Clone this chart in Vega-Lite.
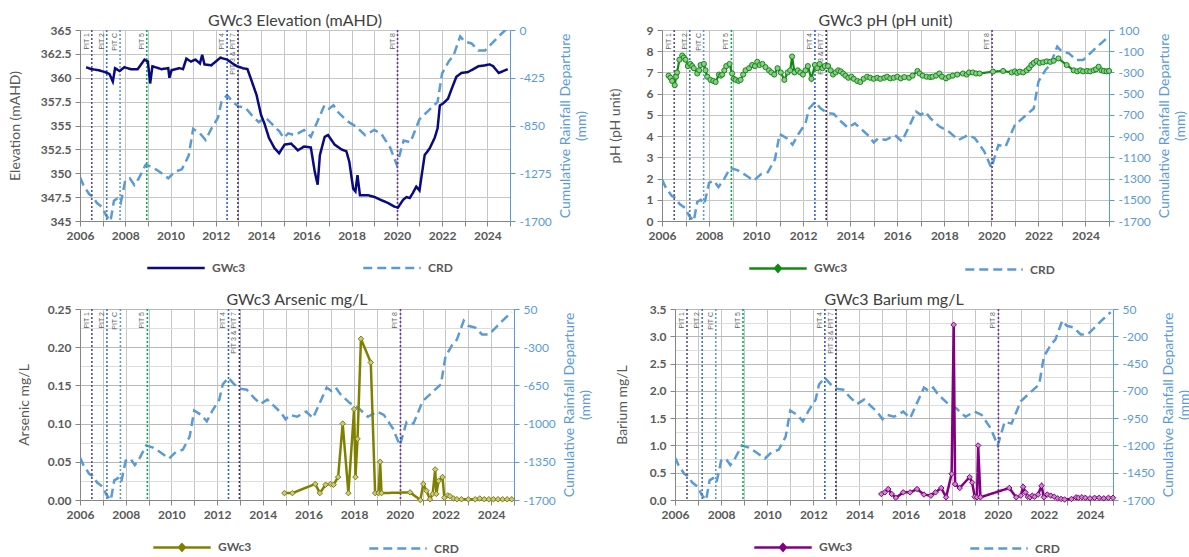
{
"$schema": "https://vega.github.io/schema/vega-lite/v6.json",
"padding": {"left": 8, "top": 13, "right": 0, "bottom": 0},
"config": {
 "font": "Lato",
 "view": {"stroke": null},
 "axis": {"labelFont": "Lato", "labelFontSize": 12, "labelFontWeight": "bold", "labelColor": "#595959", "titleFont": "Lato", "titleFontSize": 14, "titleFontWeight": "normal", "titleColor": "#595959", "gridColor": "#C6C6C6", "domainColor": "#868686", "tickColor": "#868686", "tickSize": 5, "labelPadding": 4, "labelOverlap": false},
 "legend": {"orient": "none", "direction": "horizontal", "title": null, "symbolSize": 3300, "symbolStrokeWidth": 2.5, "labelFont": "Lato", "labelFontSize": 12, "labelFontWeight": "bold", "labelColor": "#595959", "columnPadding": 112, "labelOffset": 6},
 "title": {"font": "Lato", "fontSize": 16, "fontWeight": "normal", "color": "#404040", "anchor": "middle", "frame": "group", "offset": -5}
},
"datasets": {
 "pits": [
  {"year": 2006.52, "pit": "PIT 1"},
  {"year": 2007.18, "pit": "PIT 2"},
  {"year": 2007.77, "pit": "PIT C"},
  {"year": 2008.95, "pit": "PIT 5"},
  {"year": 2012.5, "pit": "PIT 4"},
  {"year": 2012.98, "pit": "PIT 3 & PIT 7"},
  {"year": 2020.03, "pit": "PIT 8"}
 ],
 "crd": [
  {"year": 2006.0, "crd": -1310}, {"year": 2006.15, "crd": -1380}, {"year": 2006.4, "crd": -1460}, {"year": 2006.55, "crd": -1480}, {"year": 2006.75, "crd": -1540}, {"year": 2007.0, "crd": -1580}, {"year": 2007.15, "crd": -1650}, {"year": 2007.35, "crd": -1700}, {"year": 2007.5, "crd": -1520}, {"year": 2007.65, "crd": -1500}, {"year": 2007.8, "crd": -1540}, {"year": 2008.0, "crd": -1340}, {"year": 2008.2, "crd": -1320}, {"year": 2008.4, "crd": -1380}, {"year": 2008.6, "crd": -1320}, {"year": 2008.9, "crd": -1200}, {"year": 2009.2, "crd": -1220}, {"year": 2009.5, "crd": -1260}, {"year": 2009.9, "crd": -1320}, {"year": 2010.2, "crd": -1260}, {"year": 2010.5, "crd": -1240}, {"year": 2010.8, "crd": -1120}, {"year": 2011.0, "crd": -880}, {"year": 2011.3, "crd": -920}, {"year": 2011.55, "crd": -980}, {"year": 2011.8, "crd": -880}, {"year": 2012.1, "crd": -780}, {"year": 2012.25, "crd": -640}, {"year": 2012.5, "crd": -580}, {"year": 2012.75, "crd": -640}, {"year": 2013.0, "crd": -680}, {"year": 2013.3, "crd": -690}, {"year": 2013.6, "crd": -760}, {"year": 2013.9, "crd": -820}, {"year": 2014.2, "crd": -780}, {"year": 2014.5, "crd": -840}, {"year": 2014.8, "crd": -900}, {"year": 2015.0, "crd": -960}, {"year": 2015.2, "crd": -920}, {"year": 2015.5, "crd": -937}, {"year": 2015.9, "crd": -890}, {"year": 2016.2, "crd": -950}, {"year": 2016.5, "crd": -810}, {"year": 2016.8, "crd": -670}, {"year": 2017.0, "crd": -700}, {"year": 2017.2, "crd": -670}, {"year": 2017.4, "crd": -730}, {"year": 2017.8, "crd": -810}, {"year": 2018.2, "crd": -860}, {"year": 2018.6, "crd": -937}, {"year": 2019.0, "crd": -890}, {"year": 2019.3, "crd": -920}, {"year": 2019.7, "crd": -1045}, {"year": 2020.0, "crd": -1200}, {"year": 2020.3, "crd": -984}, {"year": 2020.6, "crd": -1000}, {"year": 2021.0, "crd": -795}, {"year": 2021.4, "crd": -717}, {"year": 2021.8, "crd": -640}, {"year": 2022.0, "crd": -387}, {"year": 2022.3, "crd": -277}, {"year": 2022.5, "crd": -230}, {"year": 2022.8, "crd": -57}, {"year": 2023.0, "crd": -104}, {"year": 2023.3, "crd": -120}, {"year": 2023.6, "crd": -183}, {"year": 2023.9, "crd": -183}, {"year": 2024.2, "crd": -120}, {"year": 2024.5, "crd": -57}, {"year": 2024.9, "crd": 21}
 ],
 "elev": [
  {"year": 2006.27, "v": 361.1}, {"year": 2006.5, "v": 360.9}, {"year": 2006.8, "v": 360.8}, {"year": 2007.1, "v": 360.6}, {"year": 2007.3, "v": 360.4}, {"year": 2007.45, "v": 359.6}, {"year": 2007.55, "v": 361.0}, {"year": 2007.75, "v": 360.7}, {"year": 2007.96, "v": 361.1}, {"year": 2008.25, "v": 360.9}, {"year": 2008.55, "v": 360.9}, {"year": 2008.85, "v": 361.9}, {"year": 2009.0, "v": 361.7}, {"year": 2009.1, "v": 359.4}, {"year": 2009.2, "v": 361.2}, {"year": 2009.6, "v": 360.9}, {"year": 2009.9, "v": 361.0}, {"year": 2009.95, "v": 360.0}, {"year": 2010.05, "v": 360.8}, {"year": 2010.4, "v": 361.0}, {"year": 2010.55, "v": 360.9}, {"year": 2010.7, "v": 362.0}, {"year": 2010.9, "v": 361.7}, {"year": 2011.1, "v": 361.9}, {"year": 2011.3, "v": 361.5}, {"year": 2011.4, "v": 362.4}, {"year": 2011.5, "v": 361.4}, {"year": 2011.8, "v": 361.3}, {"year": 2012.0, "v": 361.7}, {"year": 2012.2, "v": 362.1}, {"year": 2012.5, "v": 361.9}, {"year": 2012.8, "v": 361.4}, {"year": 2012.95, "v": 361.2}, {"year": 2013.2, "v": 361.0}, {"year": 2013.4, "v": 360.9}, {"year": 2013.55, "v": 359.9}, {"year": 2013.8, "v": 358.2}, {"year": 2014.0, "v": 356.1}, {"year": 2014.15, "v": 355.2}, {"year": 2014.35, "v": 353.7}, {"year": 2014.6, "v": 352.6}, {"year": 2014.8, "v": 352.1}, {"year": 2015.04, "v": 353.0}, {"year": 2015.33, "v": 353.1}, {"year": 2015.63, "v": 352.4}, {"year": 2015.9, "v": 352.8}, {"year": 2016.2, "v": 352.7}, {"year": 2016.37, "v": 350.2}, {"year": 2016.5, "v": 348.8}, {"year": 2016.6, "v": 351.9}, {"year": 2016.81, "v": 353.8}, {"year": 2016.96, "v": 354.0}, {"year": 2017.25, "v": 353.0}, {"year": 2017.55, "v": 352.5}, {"year": 2017.77, "v": 352.3}, {"year": 2017.9, "v": 351.2}, {"year": 2018.07, "v": 348.4}, {"year": 2018.17, "v": 348.1}, {"year": 2018.26, "v": 349.8}, {"year": 2018.37, "v": 347.7}, {"year": 2018.73, "v": 347.7}, {"year": 2019.03, "v": 347.5}, {"year": 2019.3, "v": 347.2}, {"year": 2019.6, "v": 346.9}, {"year": 2019.9, "v": 346.5}, {"year": 2020.05, "v": 346.4}, {"year": 2020.27, "v": 347.2}, {"year": 2020.42, "v": 347.5}, {"year": 2020.57, "v": 347.4}, {"year": 2020.7, "v": 347.9}, {"year": 2020.86, "v": 348.6}, {"year": 2021.0, "v": 348.2}, {"year": 2021.08, "v": 349.5}, {"year": 2021.23, "v": 351.9}, {"year": 2021.45, "v": 352.6}, {"year": 2021.67, "v": 353.7}, {"year": 2021.8, "v": 354.7}, {"year": 2021.9, "v": 357.1}, {"year": 2022.04, "v": 357.3}, {"year": 2022.26, "v": 357.8}, {"year": 2022.4, "v": 358.7}, {"year": 2022.63, "v": 360.1}, {"year": 2022.85, "v": 360.5}, {"year": 2023.15, "v": 360.6}, {"year": 2023.6, "v": 361.2}, {"year": 2023.9, "v": 361.3}, {"year": 2024.1, "v": 361.4}, {"year": 2024.26, "v": 361.2}, {"year": 2024.5, "v": 360.5}, {"year": 2024.7, "v": 360.7}, {"year": 2024.9, "v": 360.9}
 ],
 "ph": [
  {"year": 2006.28, "v": 6.85}, {"year": 2006.36, "v": 6.75}, {"year": 2006.43, "v": 6.6}, {"year": 2006.54, "v": 6.4}, {"year": 2006.6, "v": 6.8}, {"year": 2006.64, "v": 7.0}, {"year": 2006.74, "v": 7.6}, {"year": 2006.86, "v": 7.8}, {"year": 2006.93, "v": 7.7}, {"year": 2007.0, "v": 7.6}, {"year": 2007.1, "v": 7.3}, {"year": 2007.2, "v": 7.4}, {"year": 2007.28, "v": 7.3}, {"year": 2007.35, "v": 7.2}, {"year": 2007.5, "v": 6.95}, {"year": 2007.58, "v": 7.1}, {"year": 2007.64, "v": 7.35}, {"year": 2007.78, "v": 7.4}, {"year": 2007.85, "v": 7.1}, {"year": 2007.92, "v": 6.8}, {"year": 2008.06, "v": 6.65}, {"year": 2008.18, "v": 6.6}, {"year": 2008.28, "v": 6.55}, {"year": 2008.42, "v": 6.9}, {"year": 2008.5, "v": 6.85}, {"year": 2008.56, "v": 6.9}, {"year": 2008.65, "v": 7.1}, {"year": 2008.73, "v": 7.3}, {"year": 2008.87, "v": 7.4}, {"year": 2008.98, "v": 6.95}, {"year": 2009.05, "v": 6.7}, {"year": 2009.13, "v": 6.65}, {"year": 2009.25, "v": 6.6}, {"year": 2009.34, "v": 6.65}, {"year": 2009.45, "v": 6.9}, {"year": 2009.55, "v": 7.1}, {"year": 2009.7, "v": 7.2}, {"year": 2009.83, "v": 7.35}, {"year": 2009.95, "v": 7.3}, {"year": 2010.05, "v": 7.5}, {"year": 2010.15, "v": 7.35}, {"year": 2010.27, "v": 7.4}, {"year": 2010.4, "v": 7.25}, {"year": 2010.55, "v": 7.1}, {"year": 2010.65, "v": 7.0}, {"year": 2010.77, "v": 6.9}, {"year": 2010.91, "v": 7.2}, {"year": 2011.05, "v": 7.0}, {"year": 2011.2, "v": 6.65}, {"year": 2011.34, "v": 7.0}, {"year": 2011.45, "v": 7.1}, {"year": 2011.53, "v": 7.75}, {"year": 2011.63, "v": 7.0}, {"year": 2011.77, "v": 7.1}, {"year": 2011.88, "v": 7.0}, {"year": 2011.99, "v": 6.9}, {"year": 2012.1, "v": 7.1}, {"year": 2012.2, "v": 7.3}, {"year": 2012.35, "v": 6.7}, {"year": 2012.5, "v": 7.35}, {"year": 2012.6, "v": 7.2}, {"year": 2012.7, "v": 7.4}, {"year": 2012.82, "v": 7.2}, {"year": 2012.92, "v": 7.3}, {"year": 2013.06, "v": 7.3}, {"year": 2013.17, "v": 7.1}, {"year": 2013.27, "v": 6.9}, {"year": 2013.38, "v": 7.0}, {"year": 2013.49, "v": 7.1}, {"year": 2013.6, "v": 7.05}, {"year": 2013.7, "v": 6.95}, {"year": 2013.8, "v": 6.85}, {"year": 2013.92, "v": 6.75}, {"year": 2014.05, "v": 6.8}, {"year": 2014.15, "v": 6.7}, {"year": 2014.3, "v": 6.6}, {"year": 2014.43, "v": 6.55}, {"year": 2014.57, "v": 6.7}, {"year": 2014.72, "v": 6.8}, {"year": 2014.85, "v": 6.75}, {"year": 2015.0, "v": 6.7}, {"year": 2015.15, "v": 6.75}, {"year": 2015.28, "v": 6.7}, {"year": 2015.45, "v": 6.75}, {"year": 2015.57, "v": 6.8}, {"year": 2015.7, "v": 6.72}, {"year": 2015.85, "v": 6.75}, {"year": 2016.0, "v": 6.8}, {"year": 2016.15, "v": 6.72}, {"year": 2016.3, "v": 6.78}, {"year": 2016.5, "v": 6.75}, {"year": 2016.65, "v": 6.85}, {"year": 2016.86, "v": 7.07}, {"year": 2016.95, "v": 6.95}, {"year": 2017.08, "v": 6.85}, {"year": 2017.25, "v": 6.8}, {"year": 2017.4, "v": 6.78}, {"year": 2017.5, "v": 6.8}, {"year": 2017.65, "v": 6.85}, {"year": 2017.79, "v": 6.95}, {"year": 2017.9, "v": 6.8}, {"year": 2018.07, "v": 6.72}, {"year": 2018.2, "v": 6.8}, {"year": 2018.36, "v": 6.85}, {"year": 2018.55, "v": 6.9}, {"year": 2018.79, "v": 6.95}, {"year": 2018.95, "v": 6.9}, {"year": 2019.05, "v": 7.0}, {"year": 2019.21, "v": 7.0}, {"year": 2019.35, "v": 6.95}, {"year": 2019.5, "v": 6.95}, {"year": 2020.07, "v": 7.04}, {"year": 2020.5, "v": 7.07}, {"year": 2020.86, "v": 7.0}, {"year": 2021.0, "v": 7.05}, {"year": 2021.1, "v": 6.98}, {"year": 2021.21, "v": 7.04}, {"year": 2021.35, "v": 7.0}, {"year": 2021.5, "v": 7.1}, {"year": 2021.6, "v": 7.2}, {"year": 2021.7, "v": 7.35}, {"year": 2021.8, "v": 7.45}, {"year": 2021.92, "v": 7.54}, {"year": 2022.05, "v": 7.45}, {"year": 2022.2, "v": 7.48}, {"year": 2022.35, "v": 7.52}, {"year": 2022.5, "v": 7.5}, {"year": 2022.65, "v": 7.55}, {"year": 2022.85, "v": 7.66}, {"year": 2023.2, "v": 7.35}, {"year": 2023.5, "v": 7.1}, {"year": 2023.65, "v": 7.05}, {"year": 2023.78, "v": 7.1}, {"year": 2023.9, "v": 7.05}, {"year": 2024.07, "v": 7.07}, {"year": 2024.2, "v": 7.05}, {"year": 2024.35, "v": 7.1}, {"year": 2024.45, "v": 7.15}, {"year": 2024.56, "v": 7.27}, {"year": 2024.68, "v": 7.1}, {"year": 2024.78, "v": 7.07}, {"year": 2024.9, "v": 7.05}, {"year": 2025.0, "v": 7.07}
 ],
 "as": [
  {"year": 2014.95, "v": 0.009}, {"year": 2015.3, "v": 0.009}, {"year": 2016.3, "v": 0.021}, {"year": 2016.5, "v": 0.009}, {"year": 2016.75, "v": 0.02}, {"year": 2016.97, "v": 0.021}, {"year": 2017.1, "v": 0.02}, {"year": 2017.3, "v": 0.03}, {"year": 2017.5, "v": 0.1}, {"year": 2017.75, "v": 0.009}, {"year": 2018.0, "v": 0.119}, {"year": 2018.06, "v": 0.03}, {"year": 2018.15, "v": 0.08}, {"year": 2018.3, "v": 0.211}, {"year": 2018.73, "v": 0.18}, {"year": 2018.92, "v": 0.009}, {"year": 2019.07, "v": 0.009}, {"year": 2019.14, "v": 0.05}, {"year": 2019.2, "v": 0.009}, {"year": 2020.45, "v": 0.01}, {"year": 2020.9, "v": 0.0}, {"year": 2021.03, "v": 0.021}, {"year": 2021.17, "v": 0.012}, {"year": 2021.32, "v": 0.001}, {"year": 2021.44, "v": 0.008}, {"year": 2021.55, "v": 0.04}, {"year": 2021.6, "v": 0.008}, {"year": 2021.7, "v": 0.025}, {"year": 2021.87, "v": 0.03}, {"year": 2021.95, "v": 0.003}, {"year": 2022.1, "v": 0.006}, {"year": 2022.2, "v": 0.005}, {"year": 2022.35, "v": 0.002}, {"year": 2022.5, "v": 0.001}, {"year": 2022.7, "v": 0.001}, {"year": 2023.0, "v": 0.001}, {"year": 2023.3, "v": 0.001}, {"year": 2023.5, "v": 0.002}, {"year": 2023.7, "v": 0.001}, {"year": 2023.9, "v": 0.001}, {"year": 2024.1, "v": 0.001}, {"year": 2024.3, "v": 0.001}, {"year": 2024.5, "v": 0.001}, {"year": 2024.7, "v": 0.001}, {"year": 2024.9, "v": 0.001}
 ],
 "ba": [
  {"year": 2014.95, "v": 0.11}, {"year": 2015.1, "v": 0.14}, {"year": 2015.25, "v": 0.2}, {"year": 2015.4, "v": 0.11}, {"year": 2015.58, "v": 0.04}, {"year": 2015.9, "v": 0.14}, {"year": 2016.2, "v": 0.14}, {"year": 2016.5, "v": 0.2}, {"year": 2016.8, "v": 0.1}, {"year": 2017.1, "v": 0.08}, {"year": 2017.3, "v": 0.14}, {"year": 2017.55, "v": 0.22}, {"year": 2017.76, "v": 0.05}, {"year": 2018.0, "v": 0.48}, {"year": 2018.09, "v": 3.21}, {"year": 2018.15, "v": 0.29}, {"year": 2018.35, "v": 0.22}, {"year": 2018.78, "v": 0.42}, {"year": 2018.89, "v": 0.32}, {"year": 2019.0, "v": 0.06}, {"year": 2019.1, "v": 0.05}, {"year": 2019.15, "v": 1.0}, {"year": 2019.25, "v": 0.05}, {"year": 2020.5, "v": 0.22}, {"year": 2020.8, "v": 0.05}, {"year": 2021.0, "v": 0.08}, {"year": 2021.1, "v": 0.24}, {"year": 2021.2, "v": 0.14}, {"year": 2021.3, "v": 0.06}, {"year": 2021.4, "v": 0.05}, {"year": 2021.5, "v": 0.08}, {"year": 2021.6, "v": 0.06}, {"year": 2021.75, "v": 0.1}, {"year": 2021.9, "v": 0.26}, {"year": 2022.0, "v": 0.05}, {"year": 2022.15, "v": 0.1}, {"year": 2022.3, "v": 0.08}, {"year": 2022.45, "v": 0.06}, {"year": 2022.6, "v": 0.03}, {"year": 2022.75, "v": 0.02}, {"year": 2022.9, "v": 0.01}, {"year": 2023.2, "v": 0.02}, {"year": 2023.4, "v": 0.05}, {"year": 2023.5, "v": 0.04}, {"year": 2023.65, "v": 0.05}, {"year": 2023.8, "v": 0.04}, {"year": 2024.0, "v": 0.03}, {"year": 2024.2, "v": 0.04}, {"year": 2024.4, "v": 0.04}, {"year": 2024.6, "v": 0.03}, {"year": 2024.8, "v": 0.04}, {"year": 2025.0, "v": 0.04}
 ]
},
"resolve": {"scale": {"color": "independent", "strokeDash": "independent"}, "legend": {"color": "independent", "strokeDash": "independent"}},
"spacing": 15,
"vconcat": [
 {
  "hconcat": [
   {
    "title": "GWc3 Elevation (mAHD)",
    "width": 430, "height": 191,
    "encoding": {"x": {"field": "year", "type": "quantitative", "scale": {"domain": [2006, 2025], "nice": false, "zero": false}, "axis": {"values": [2006,2007,2008,2009,2010,2011,2012,2013,2014,2015,2016,2017,2018,2019,2020,2021,2022,2023,2024,2025], "format": "d", "labelExpr": "datum.value % 2 == 0 ? datum.label : ''", "labelFlush": false, "labelOverlap": false, "title": null, "grid": true}}},
    "layer": [
     {"data": {"name": "crd"}, "mark": {"type": "line", "strokeWidth": 2.5, "clip": true},
      "encoding": {
       "y": {"field": "crd", "type": "quantitative", "scale": {"domain": [-1700, 0], "nice": false, "zero": false}, "axis": {"orient": "right", "values": [-1700,-1275,-850,-425,0], "labelExpr": "'' + datum.value", "labelOverlap": false, "grid": false, "title": ["Cumulative Rainfall Departure", "(mm)"], "titleAngle": 270, "titleBaseline": "top", "titlePadding": -9, "titleLineHeight": 16, "labelColor": "#5B9BD5", "titleColor": "#5B9BD5", "domainColor": "#5B9BD5", "tickColor": "#5B9BD5", "labelFontWeight": "normal"}},
       "color": {"datum": "CRD", "scale": {"domain": ["GWc3", "CRD"], "range": ["#0A0A80", "#5B9BD5"]}, "legend": {"legendX": 66, "legendY": 208}},
       "strokeDash": {"datum": "CRD", "scale": {"domain": ["GWc3", "CRD"], "range": [[1, 0], [9, 5]]}, "legend": {"legendX": 66, "legendY": 208}}
      }},
     {"layer": [
       {"data": {"name": "pits"}, "mark": {"type": "rule", "strokeDash": [2, 2], "strokeWidth": 1.6},
        "encoding": {"stroke": {"field": "pit", "type": "nominal", "scale": {"domain": ["PIT 1","PIT 2","PIT C","PIT 5","PIT 4","PIT 3 & PIT 7","PIT 8"], "range": ["#5E4B8B","#4472C4","#5B9BD5","#00B050","#2E5BE0","#403075","#7030A0"]}, "legend": null}}},
       {"data": {"name": "pits"}, "mark": {"type": "text", "angle": 270, "align": "right", "baseline": "bottom", "dx": -3, "dy": -2, "fontSize": 7, "font": "Liberation Sans", "color": "#5F5F5F"},
        "encoding": {"y": {"datum": 365, "type": "quantitative", "axis": {"orient": "left", "values": [345,347.5,350,352.5,355,357.5,360,362.5,365], "format": ".1~f", "labelOverlap": false, "title": "Elevation (mAHD)", "grid": true, "titlePadding": 18}}, "text": {"field": "pit"}}},
       {"data": {"name": "elev"}, "mark": {"type": "line", "strokeWidth": 2.5},
        "encoding": {
         "y": {"field": "v", "type": "quantitative", "scale": {"domain": [345, 365], "nice": false, "zero": false}, "axis": {"orient": "left", "values": [345,347.5,350,352.5,355,357.5,360,362.5,365], "format": ".1~f", "labelOverlap": false, "title": "Elevation (mAHD)", "grid": true, "titlePadding": 18}},
         "color": {"datum": "GWc3", "scale": {"domain": ["GWc3", "CRD"], "range": ["#0A0A80", "#5B9BD5"]}, "legend": {"legendX": 66, "legendY": 208}},
         "strokeDash": {"datum": "GWc3", "scale": {"domain": ["GWc3", "CRD"], "range": [[1, 0], [9, 5]]}, "legend": {"legendX": 66, "legendY": 208}}
        }}
     ]}
    ],
    "resolve": {"scale": {"y": "independent"}}
   },
   {
    "title": "GWc3 pH (pH unit)",
    "width": 447, "height": 191,
    "encoding": {"x": {"field": "year", "type": "quantitative", "scale": {"domain": [2006, 2025], "nice": false, "zero": false}, "axis": {"values": [2006,2007,2008,2009,2010,2011,2012,2013,2014,2015,2016,2017,2018,2019,2020,2021,2022,2023,2024,2025], "format": "d", "labelExpr": "datum.value % 2 == 0 ? datum.label : ''", "labelFlush": false, "labelOverlap": false, "title": null, "grid": true}}},
    "layer": [
     {"data": {"name": "crd"}, "mark": {"type": "line", "strokeWidth": 2.5, "clip": true},
      "encoding": {
       "y": {"field": "crd", "type": "quantitative", "scale": {"domain": [-1700, 100], "nice": false, "zero": false}, "axis": {"orient": "right", "values": [-1700,-1500,-1300,-1100,-900,-700,-500,-300,-100,100], "labelExpr": "'' + datum.value", "labelOverlap": false, "grid": false, "title": ["Cumulative Rainfall Departure", "(mm)"], "titleAngle": 270, "titleBaseline": "top", "titlePadding": -9, "titleLineHeight": 16, "labelColor": "#5B9BD5", "titleColor": "#5B9BD5", "domainColor": "#5B9BD5", "tickColor": "#5B9BD5", "labelFontWeight": "normal"}},
       "color": {"datum": "CRD", "scale": {"domain": ["GWc3", "CRD"], "range": ["#128A12", "#5B9BD5"]}, "legend": {"legendX": 86, "legendY": 208, "encode": {"symbols": {"update": {"shape": {"signal": "datum.value === 'GWc3' ? 'M-1,0H1M-0.1,0L0,-0.11L0.1,0L0,0.11Z' : 'stroke'"}}}}}},
       "strokeDash": {"datum": "CRD", "scale": {"domain": ["GWc3", "CRD"], "range": [[1, 0], [9, 5]]}, "legend": {"legendX": 86, "legendY": 208, "encode": {"symbols": {"update": {"shape": {"signal": "datum.value === 'GWc3' ? 'M-1,0H1M-0.1,0L0,-0.11L0.1,0L0,0.11Z' : 'stroke'"}}}}}}
      }},
     {"layer": [
       {"data": {"name": "pits"}, "mark": {"type": "rule", "strokeDash": [2, 2], "strokeWidth": 1.6},
        "encoding": {"stroke": {"field": "pit", "type": "nominal", "scale": {"domain": ["PIT 1","PIT 2","PIT C","PIT 5","PIT 4","PIT 3 & PIT 7","PIT 8"], "range": ["#5E4B8B","#4472C4","#5B9BD5","#00B050","#2E5BE0","#403075","#7030A0"]}, "legend": null}}},
       {"data": {"name": "pits"}, "mark": {"type": "text", "angle": 270, "align": "right", "baseline": "bottom", "dx": -3, "dy": -2, "fontSize": 7, "font": "Liberation Sans", "color": "#5F5F5F"},
        "encoding": {"y": {"datum": 9, "type": "quantitative", "axis": {"orient": "left", "values": [0,1,2,3,4,5,6,7,8,9], "format": "d", "labelOverlap": false, "title": "pH (pH unit)", "grid": true, "titlePadding": 24}}, "text": {"field": "pit"}}},
       {"data": {"name": "ph"}, "mark": {"type": "line", "strokeWidth": 2.2},
        "encoding": {
         "y": {"field": "v", "type": "quantitative", "scale": {"domain": [0, 9], "nice": false, "zero": false}, "axis": {"orient": "left", "values": [0,1,2,3,4,5,6,7,8,9], "format": "d", "labelOverlap": false, "title": "pH (pH unit)", "grid": true, "titlePadding": 24}},
         "color": {"datum": "GWc3", "scale": {"domain": ["GWc3", "CRD"], "range": ["#128A12", "#5B9BD5"]}, "legend": {"legendX": 86, "legendY": 208, "encode": {"symbols": {"update": {"shape": {"signal": "datum.value === 'GWc3' ? 'M-1,0H1M-0.1,0L0,-0.11L0.1,0L0,0.11Z' : 'stroke'"}}}}}},
         "strokeDash": {"datum": "GWc3", "scale": {"domain": ["GWc3", "CRD"], "range": [[1, 0], [9, 5]]}, "legend": {"legendX": 86, "legendY": 208, "encode": {"symbols": {"update": {"shape": {"signal": "datum.value === 'GWc3' ? 'M-1,0H1M-0.1,0L0,-0.11L0.1,0L0,0.11Z' : 'stroke'"}}}}}}
        }},
       {"data": {"name": "ph"}, "mark": {"type": "point", "shape": "circle", "filled": true, "size": 26, "fill": "#8CCB8C", "stroke": "#128A12", "strokeWidth": 1, "opacity": 1},
        "encoding": {"y": {"field": "v", "type": "quantitative", "axis": {"orient": "left", "values": [0,1,2,3,4,5,6,7,8,9], "format": "d", "labelOverlap": false, "title": "pH (pH unit)", "grid": true, "titlePadding": 24}}}}
     ]}
    ],
    "resolve": {"scale": {"y": "independent"}}
   }
  ],
  "spacing": 19,
  "resolve": {"scale": {"color": "independent", "strokeDash": "independent"}, "legend": {"color": "independent", "strokeDash": "independent"}}
 },
 {
  "hconcat": [
   {
    "title": "GWc3 Arsenic mg/L",
    "width": 434, "height": 191,
    "encoding": {"x": {"field": "year", "type": "quantitative", "scale": {"domain": [2006, 2025], "nice": false, "zero": false}, "axis": {"values": [2006,2007,2008,2009,2010,2011,2012,2013,2014,2015,2016,2017,2018,2019,2020,2021,2022,2023,2024,2025], "format": "d", "labelExpr": "datum.value % 2 == 0 ? datum.label : ''", "labelFlush": false, "labelOverlap": false, "title": null, "grid": true}}},
    "layer": [
     {"data": {"name": "crd"}, "mark": {"type": "line", "strokeWidth": 2.5, "clip": true},
      "encoding": {
       "y": {"field": "crd", "type": "quantitative", "scale": {"domain": [-1700, 50], "nice": false, "zero": false}, "axis": {"orient": "right", "values": [-1700,-1350,-1000,-650,-300,50], "labelExpr": "'' + datum.value", "labelOverlap": false, "grid": false, "title": ["Cumulative Rainfall Departure", "(mm)"], "titleAngle": 270, "titleBaseline": "top", "titlePadding": -9, "titleLineHeight": 16, "labelColor": "#5B9BD5", "titleColor": "#5B9BD5", "domainColor": "#5B9BD5", "tickColor": "#5B9BD5", "labelFontWeight": "normal"}},
       "color": {"datum": "CRD", "scale": {"domain": ["GWc3", "CRD"], "range": ["#808000", "#5B9BD5"]}, "legend": {"legendX": 72, "legendY": 208, "encode": {"symbols": {"update": {"shape": {"signal": "datum.value === 'GWc3' ? 'M-1,0H1M-0.1,0L0,-0.11L0.1,0L0,0.11Z' : 'stroke'"}}}}}},
       "strokeDash": {"datum": "CRD", "scale": {"domain": ["GWc3", "CRD"], "range": [[1, 0], [9, 5]]}, "legend": {"legendX": 72, "legendY": 208, "encode": {"symbols": {"update": {"shape": {"signal": "datum.value === 'GWc3' ? 'M-1,0H1M-0.1,0L0,-0.11L0.1,0L0,0.11Z' : 'stroke'"}}}}}}
      }},
     {"layer": [
       {"data": {"name": "pits"}, "mark": {"type": "rule", "strokeDash": [2, 2], "strokeWidth": 1.6},
        "encoding": {"stroke": {"field": "pit", "type": "nominal", "scale": {"domain": ["PIT 1","PIT 2","PIT C","PIT 5","PIT 4","PIT 3 & PIT 7","PIT 8"], "range": ["#5E4B8B","#4472C4","#5B9BD5","#00B050","#2E5BE0","#403075","#7030A0"]}, "legend": null}}},
       {"data": {"name": "pits"}, "mark": {"type": "text", "angle": 270, "align": "right", "baseline": "bottom", "dx": -3, "dy": -2, "fontSize": 7, "font": "Liberation Sans", "color": "#5F5F5F"},
        "encoding": {"y": {"datum": 0.25, "type": "quantitative", "axis": {"orient": "left", "values": [0,0.025,0.05,0.075,0.1,0.125,0.15,0.175,0.2,0.225,0.25], "format": ".2f", "labelOverlap": false, "labelExpr": "round(datum.value*1000) % 50 == 0 ? datum.label : ''", "tickOpacity": {"condition": {"test": "round(datum.value*1000) % 50 != 0", "value": 0}, "value": 1}, "gridColor": {"condition": {"test": "round(datum.value*1000) % 50 != 0", "value": "#DDDDDD"}, "value": "#B8B8B8"}, "title": "Arsenic mg/L", "grid": true, "titlePadding": 16}}, "text": {"field": "pit"}}},
       {"data": {"name": "as"}, "mark": {"type": "line", "strokeWidth": 2.5},
        "encoding": {
         "y": {"field": "v", "type": "quantitative", "scale": {"domain": [0, 0.25], "nice": false, "zero": false}, "axis": {"orient": "left", "values": [0,0.025,0.05,0.075,0.1,0.125,0.15,0.175,0.2,0.225,0.25], "format": ".2f", "labelOverlap": false, "labelExpr": "round(datum.value*1000) % 50 == 0 ? datum.label : ''", "tickOpacity": {"condition": {"test": "round(datum.value*1000) % 50 != 0", "value": 0}, "value": 1}, "gridColor": {"condition": {"test": "round(datum.value*1000) % 50 != 0", "value": "#DDDDDD"}, "value": "#B8B8B8"}, "title": "Arsenic mg/L", "grid": true, "titlePadding": 16}},
         "color": {"datum": "GWc3", "scale": {"domain": ["GWc3", "CRD"], "range": ["#808000", "#5B9BD5"]}, "legend": {"legendX": 72, "legendY": 208, "encode": {"symbols": {"update": {"shape": {"signal": "datum.value === 'GWc3' ? 'M-1,0H1M-0.1,0L0,-0.11L0.1,0L0,0.11Z' : 'stroke'"}}}}}},
         "strokeDash": {"datum": "GWc3", "scale": {"domain": ["GWc3", "CRD"], "range": [[1, 0], [9, 5]]}, "legend": {"legendX": 72, "legendY": 208, "encode": {"symbols": {"update": {"shape": {"signal": "datum.value === 'GWc3' ? 'M-1,0H1M-0.1,0L0,-0.11L0.1,0L0,0.11Z' : 'stroke'"}}}}}}
        }},
       {"data": {"name": "as"}, "mark": {"type": "point", "shape": "diamond", "filled": true, "size": 30, "fill": "#C9C98A", "stroke": "#808000", "strokeWidth": 1, "opacity": 1},
        "encoding": {"y": {"field": "v", "type": "quantitative", "axis": {"orient": "left", "values": [0,0.025,0.05,0.075,0.1,0.125,0.15,0.175,0.2,0.225,0.25], "format": ".2f", "labelOverlap": false, "labelExpr": "round(datum.value*1000) % 50 == 0 ? datum.label : ''", "tickOpacity": {"condition": {"test": "round(datum.value*1000) % 50 != 0", "value": 0}, "value": 1}, "gridColor": {"condition": {"test": "round(datum.value*1000) % 50 != 0", "value": "#DDDDDD"}, "value": "#B8B8B8"}, "title": "Arsenic mg/L", "grid": true, "titlePadding": 16}}}}
     ]}
    ],
    "resolve": {"scale": {"y": "independent"}}
   },
   {
    "title": "GWc3 Barium mg/L",
    "width": 438, "height": 191,
    "encoding": {"x": {"field": "year", "type": "quantitative", "scale": {"domain": [2006, 2025], "nice": false, "zero": false}, "axis": {"values": [2006,2007,2008,2009,2010,2011,2012,2013,2014,2015,2016,2017,2018,2019,2020,2021,2022,2023,2024,2025], "format": "d", "labelExpr": "datum.value % 2 == 0 ? datum.label : ''", "labelFlush": false, "labelOverlap": false, "title": null, "grid": true}}},
    "layer": [
     {"data": {"name": "crd"}, "mark": {"type": "line", "strokeWidth": 2.5, "clip": true},
      "encoding": {
       "y": {"field": "crd", "type": "quantitative", "scale": {"domain": [-1700, 50], "nice": false, "zero": false}, "axis": {"orient": "right", "values": [-1700,-1450,-1200,-950,-700,-450,-200,50], "labelExpr": "'' + datum.value", "labelOverlap": false, "grid": false, "title": ["Cumulative Rainfall Departure", "(mm)"], "titleAngle": 270, "titleBaseline": "top", "titlePadding": -9, "titleLineHeight": 16, "labelColor": "#5B9BD5", "titleColor": "#5B9BD5", "domainColor": "#5B9BD5", "tickColor": "#5B9BD5", "labelFontWeight": "normal"}},
       "color": {"datum": "CRD", "scale": {"domain": ["GWc3", "CRD"], "range": ["#800080", "#5B9BD5"]}, "legend": {"legendX": 78, "legendY": 208, "encode": {"symbols": {"update": {"shape": {"signal": "datum.value === 'GWc3' ? 'M-1,0H1M-0.1,0L0,-0.11L0.1,0L0,0.11Z' : 'stroke'"}}}}}},
       "strokeDash": {"datum": "CRD", "scale": {"domain": ["GWc3", "CRD"], "range": [[1, 0], [9, 5]]}, "legend": {"legendX": 78, "legendY": 208, "encode": {"symbols": {"update": {"shape": {"signal": "datum.value === 'GWc3' ? 'M-1,0H1M-0.1,0L0,-0.11L0.1,0L0,0.11Z' : 'stroke'"}}}}}}
      }},
     {"layer": [
       {"data": {"name": "pits"}, "mark": {"type": "rule", "strokeDash": [2, 2], "strokeWidth": 1.6},
        "encoding": {"stroke": {"field": "pit", "type": "nominal", "scale": {"domain": ["PIT 1","PIT 2","PIT C","PIT 5","PIT 4","PIT 3 & PIT 7","PIT 8"], "range": ["#5E4B8B","#4472C4","#5B9BD5","#00B050","#2E5BE0","#403075","#7030A0"]}, "legend": null}}},
       {"data": {"name": "pits"}, "mark": {"type": "text", "angle": 270, "align": "right", "baseline": "bottom", "dx": -3, "dy": -2, "fontSize": 7, "font": "Liberation Sans", "color": "#5F5F5F"},
        "encoding": {"y": {"datum": 3.5, "type": "quantitative", "axis": {"orient": "left", "values": [0,0.25,0.5,0.75,1,1.25,1.5,1.75,2,2.25,2.5,2.75,3,3.25,3.5], "format": ".1f", "labelOverlap": false, "labelExpr": "round(datum.value*100) % 50 == 0 ? datum.label : ''", "tickOpacity": {"condition": {"test": "round(datum.value*100) % 50 != 0", "value": 0}, "value": 1}, "gridColor": {"condition": {"test": "round(datum.value*100) % 50 != 0", "value": "#DDDDDD"}, "value": "#B8B8B8"}, "title": "Barium mg/L", "grid": true, "titlePadding": 20}}, "text": {"field": "pit"}}},
       {"data": {"name": "ba"}, "mark": {"type": "line", "strokeWidth": 2.5},
        "encoding": {
         "y": {"field": "v", "type": "quantitative", "scale": {"domain": [0, 3.5], "nice": false, "zero": false}, "axis": {"orient": "left", "values": [0,0.25,0.5,0.75,1,1.25,1.5,1.75,2,2.25,2.5,2.75,3,3.25,3.5], "format": ".1f", "labelOverlap": false, "labelExpr": "round(datum.value*100) % 50 == 0 ? datum.label : ''", "tickOpacity": {"condition": {"test": "round(datum.value*100) % 50 != 0", "value": 0}, "value": 1}, "gridColor": {"condition": {"test": "round(datum.value*100) % 50 != 0", "value": "#DDDDDD"}, "value": "#B8B8B8"}, "title": "Barium mg/L", "grid": true, "titlePadding": 20}},
         "color": {"datum": "GWc3", "scale": {"domain": ["GWc3", "CRD"], "range": ["#800080", "#5B9BD5"]}, "legend": {"legendX": 78, "legendY": 208, "encode": {"symbols": {"update": {"shape": {"signal": "datum.value === 'GWc3' ? 'M-1,0H1M-0.1,0L0,-0.11L0.1,0L0,0.11Z' : 'stroke'"}}}}}},
         "strokeDash": {"datum": "GWc3", "scale": {"domain": ["GWc3", "CRD"], "range": [[1, 0], [9, 5]]}, "legend": {"legendX": 78, "legendY": 208, "encode": {"symbols": {"update": {"shape": {"signal": "datum.value === 'GWc3' ? 'M-1,0H1M-0.1,0L0,-0.11L0.1,0L0,0.11Z' : 'stroke'"}}}}}}
        }},
       {"data": {"name": "ba"}, "mark": {"type": "point", "shape": "diamond", "filled": true, "size": 30, "fill": "#C88AC8", "stroke": "#800080", "strokeWidth": 1, "opacity": 1},
        "encoding": {"y": {"field": "v", "type": "quantitative", "axis": {"orient": "left", "values": [0,0.25,0.5,0.75,1,1.25,1.5,1.75,2,2.25,2.5,2.75,3,3.25,3.5], "format": ".1f", "labelOverlap": false, "labelExpr": "round(datum.value*100) % 50 == 0 ? datum.label : ''", "tickOpacity": {"condition": {"test": "round(datum.value*100) % 50 != 0", "value": 0}, "value": 1}, "gridColor": {"condition": {"test": "round(datum.value*100) % 50 != 0", "value": "#DDDDDD"}, "value": "#B8B8B8"}, "title": "Barium mg/L", "grid": true, "titlePadding": 20}}}}
     ]}
    ],
    "resolve": {"scale": {"y": "independent"}}
   }
  ],
  "spacing": 22,
  "resolve": {"scale": {"color": "independent", "strokeDash": "independent"}, "legend": {"color": "independent", "strokeDash": "independent"}}
 }
]
}
